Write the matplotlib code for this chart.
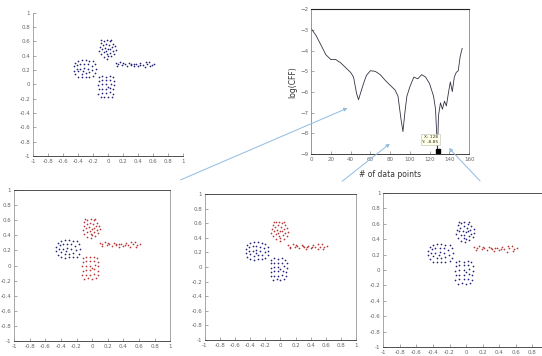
import numpy as np
import matplotlib
matplotlib.use('Agg')
import matplotlib.pyplot as plt
from matplotlib.patches import FancyArrowPatch

# point clusters (x, y)
circle_x = [-0.10, -0.06, -0.02, 0.02, 0.06, 0.09, 0.10, 0.08, 0.04, -0.01, -0.06, -0.10, -0.12, -0.11, -0.07,
            -0.03, 0.01, 0.05, 0.06, 0.03, -0.02, -0.06, -0.08, -0.04, 0.00, 0.02, -0.03, 0.00, -0.09, 0.04]
circle_y = [0.58, 0.61, 0.62, 0.60, 0.57, 0.53, 0.48, 0.43, 0.39, 0.36, 0.38, 0.42, 0.47, 0.52, 0.55,
            0.57, 0.55, 0.52, 0.47, 0.44, 0.42, 0.45, 0.50, 0.51, 0.49, 0.50, 0.46, 0.40, 0.62, 0.62]
blob_x = [-0.44, -0.40, -0.35, -0.30, -0.25, -0.20, -0.17, -0.16, -0.17, -0.20, -0.25, -0.30, -0.35, -0.40, -0.44, -0.46,
          -0.46, -0.41, -0.37, -0.32, -0.27, -0.22, -0.21, -0.25, -0.30, -0.35, -0.40, -0.42, -0.37, -0.32, -0.27, -0.33]
blob_y = [0.30, 0.33, 0.34, 0.34, 0.33, 0.32, 0.28, 0.22, 0.16, 0.12, 0.11, 0.11, 0.10, 0.11, 0.14, 0.19,
          0.25, 0.27, 0.29, 0.29, 0.28, 0.26, 0.20, 0.17, 0.16, 0.15, 0.18, 0.22, 0.22, 0.23, 0.22, 0.19]
square_x = [-0.12, -0.08, -0.03, 0.02, 0.06, 0.08, 0.08, 0.07, 0.07, 0.05, 0.00, -0.05, -0.10, -0.13, -0.12,
            -0.13, -0.12, -0.08, -0.03, 0.02, 0.04, 0.03, 0.02, -0.03, -0.08, -0.08, -0.08, -0.03, -0.03, 0.00]
square_y = [0.10, 0.12, 0.11, 0.12, 0.10, 0.05, -0.01, -0.07, -0.13, -0.17, -0.18, -0.17, -0.18, -0.13, -0.07,
            -0.01, 0.05, 0.06, 0.06, 0.06, 0.01, -0.05, -0.11, -0.12, -0.12, -0.06, 0.00, 0.00, -0.06, -0.03]
line_x = [0.10, 0.13, 0.16, 0.19, 0.22, 0.25, 0.28, 0.31, 0.34, 0.37, 0.40, 0.43, 0.46, 0.49, 0.52,
          0.55, 0.58, 0.61, 0.12, 0.20, 0.30, 0.42, 0.50, 0.56, 0.35]
line_y = [0.30, 0.28, 0.31, 0.27, 0.29, 0.26, 0.30, 0.27, 0.25, 0.29, 0.26, 0.30, 0.27, 0.24, 0.28,
          0.31, 0.27, 0.29, 0.26, 0.30, 0.29, 0.27, 0.31, 0.25, 0.28]

# log(CFF) curve
n_points = [0, 5, 10, 15, 20, 25, 30, 35, 40, 43, 46, 48, 50, 53, 56, 60, 65, 70, 75, 80, 85, 88, 91, 93, 95, 97,
            100, 104, 108, 112, 116, 120, 124, 126, 128, 129, 131, 133, 135, 137, 139, 141, 143, 145, 147, 149, 151, 153]
log_cff = [-2.93, -3.27, -3.73, -4.20, -4.43, -4.43, -4.59, -4.82, -5.05, -5.28, -6.06, -6.37, -6.06, -5.60, -5.20,
           -4.97, -5.00, -5.16, -5.43, -5.67, -5.90, -6.20, -7.30, -7.91, -6.98, -6.20, -5.75, -5.28, -5.36, -5.16,
           -5.28, -5.60, -6.20, -6.83, -8.85, -7.14, -6.52, -6.83, -6.44, -6.67, -6.06, -5.51, -5.98, -5.28, -5.05,
           -4.97, -4.27, -3.89]

BLUE = '#23237e'
RED = '#b83838'
GRAY = '#666666'

clusters = {
    'circle': (circle_x, circle_y),
    'blob': (blob_x, blob_y),
    'square': (square_x, square_y),
    'line': (line_x, line_y),
}

# which cluster gets which colour in every scatter panel
panels = [
    ([0.061, 0.562, 0.277, 0.402], {'circle': BLUE, 'blob': BLUE, 'square': BLUE, 'line': BLUE}, False, True),
    ([0.026, 0.042, 0.288, 0.424], {'circle': RED, 'blob': BLUE, 'square': RED, 'line': RED}, True, True),
    ([0.378, 0.045, 0.279, 0.410], {'circle': RED, 'blob': BLUE, 'square': BLUE, 'line': RED}, True, True),
    ([0.707, 0.025, 0.306, 0.433], {'circle': BLUE, 'blob': BLUE, 'square': BLUE, 'line': RED}, True, False),
]

ticks = np.round(np.arange(-1, 1.01, 0.2), 1)
tick_labels = ['%g' % t if t != 0 else '0' for t in ticks]

fig = plt.figure(figsize=(5.42, 3.56), dpi=100)

for rect, colors, boxed, last_label in panels:
    ax = fig.add_axes(rect)
    for name, (xs, ys) in clusters.items():
        ax.scatter(xs, ys, s=1.5, c=colors[name], marker='o', linewidths=0)
    ax.set_xlim(-1, 1)
    ax.set_ylim(-1, 1)
    ax.set_xticks(ticks)
    ax.set_xticklabels(tick_labels if last_label else tick_labels[:-1] + [''])
    ax.set_yticks(ticks)
    ax.set_yticklabels(tick_labels)
    ax.tick_params(direction='in', length=2, width=0.4, labelsize=4, colors=GRAY, pad=2)
    for side, sp in ax.spines.items():
        sp.set_linewidth(0.6)
        sp.set_color('#333333' if side in ('top', 'bottom') else '#999999')
    if not boxed:
        ax.spines['top'].set_visible(False)
        ax.spines['right'].set_visible(False)

# log(CFF) panel
ax = fig.add_axes([0.574, 0.567, 0.2915, 0.407])
ax.plot(n_points, log_cff, color='#333344', lw=0.6)
ax.plot([128], [-8.85], marker='s', color='black', ms=2.5)
ax.text(121, -8.3, 'X: 128\nY: -8.85', fontsize=3.2, color='#333333', va='center', ha='center',
        bbox=dict(boxstyle='square,pad=0.3', fc='#ffffe6', ec='#bbbbbb', lw=0.4))
ax.set_xlim(0, 160)
ax.set_ylim(-9, -2)
ax.set_xticks(range(0, 161, 20))
ax.set_yticks(range(-9, -1))
ax.tick_params(direction='in', length=2, width=0.4, labelsize=4, colors=GRAY, pad=2)
ax.set_xlabel('# of data points', fontsize=5.5, color='#333333', labelpad=6)
ax.set_ylabel('log(CFF)', fontsize=5.5, color='#333333', labelpad=2)
for side, sp in ax.spines.items():
    sp.set_linewidth(0.8 if side == 'top' else 0.6)
    sp.set_color('#222222' if side in ('top', 'bottom') else '#888888')

# arrows from the bottom panels to the dips (pixel positions of the picture)
W, H = 542, 356
for (x0, y0), (x1, y1) in [((178, 181), (350, 107)), ((340, 183), (392, 142)), ((482, 183), (447, 146))]:
    arr = FancyArrowPatch((x0 / W, 1 - y0 / H), (x1 / W, 1 - y1 / H), transform=fig.transFigure,
                          arrowstyle='-|>', mutation_scale=5, color='#8fbbe0', lw=0.7)
    fig.add_artist(arr)

fig.savefig('out.png', dpi=100)
